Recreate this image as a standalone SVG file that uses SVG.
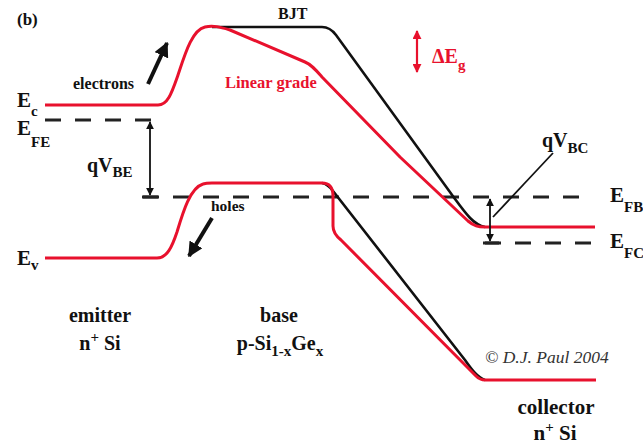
<svg xmlns="http://www.w3.org/2000/svg" width="643" height="444" viewBox="0 0 643 444">
<defs>
<style>
.t{font-family:'Liberation Serif','DejaVu Serif','Noto Serif',serif;font-weight:bold;fill:#111}
.i{font-family:'Liberation Serif','DejaVu Serif',serif;font-style:italic;fill:#333}
.red{stroke:#e8112d;stroke-width:3;fill:none;stroke-linejoin:round}
.blk{stroke:#111;stroke-width:2.6;fill:none;stroke-linejoin:round}
.dash{stroke:#222;stroke-width:3;stroke-dasharray:16 14;fill:none}
.tick{stroke:#222;stroke-width:3}
.thin{stroke:#111;stroke-width:1.8;fill:none}
</style>
<marker id="ah" viewBox="0 0 10 10" refX="9" refY="5" markerWidth="8" markerHeight="8" markerUnits="userSpaceOnUse" orient="auto-start-reverse"><path d="M0,0 L10,5 L0,10 z" fill="#111"/></marker>
<marker id="ahr" viewBox="0 0 10 10" refX="9" refY="5" markerWidth="9" markerHeight="9" markerUnits="userSpaceOnUse" orient="auto-start-reverse"><path d="M0,0 L10,5 L0,10 z" fill="#e8112d"/></marker>
<marker id="big" viewBox="0 0 10 10" refX="9" refY="5" markerWidth="15" markerHeight="15" markerUnits="userSpaceOnUse" orient="auto"><path d="M0,0 L10,5 L0,10 z" fill="#111"/></marker>
</defs>
<rect width="643" height="444" fill="#fff"/>

<g id="fermi-levels">
<path class="dash" d="M45,120 H152"/>
<path class="dash" d="M143,197 H592"/>
<path class="dash" d="M485,243 H592"/>
</g>

<g id="conduction-band">
<path class="blk" d="M212,27 H322 Q330,27 336,35 L455,199 C466,214 474,225 485,227"/>
<path class="red" d="M45,105 H158 C168,105 172,92 178,75 C185,54 192,30 205,27 C213,25 220,27 230,30 L305,62 C312,65 316,70 322,77 L400,157 L468,221 C474,226 478,227 485,227 H595"/>
</g>

<g id="valence-band">
<path class="blk" d="M322,183 C327,184 330,187 333,191 L465,360 C472,370 478,378 485,380"/>
<path class="red" d="M45,258 H157 C167,258 172,247 177,232 C183,212 190,188 203,184 C206,183 208,183 212,183 H322 C330,183 333,188 333,196 V226 C333,232 336,236 341,240 L476,376 C479,379 481,380 485,380 H596"/>
</g>

<g id="connectors">
<line class="thin" x1="150" y1="122" x2="150" y2="195" marker-start="url(#ah)" marker-end="url(#ah)"/>
<line class="tick" x1="142" y1="197" x2="158" y2="197"/>
<line class="thin" x1="490" y1="199" x2="490" y2="241" marker-start="url(#ah)" marker-end="url(#ah)"/>
<line class="tick" x1="483" y1="243" x2="499" y2="243"/>
<line class="thin" x1="493" y1="217" x2="553" y2="153"/>
<line stroke="#e8112d" stroke-width="2.2" x1="417" y1="31" x2="417" y2="72" marker-start="url(#ahr)" marker-end="url(#ahr)"/>
<line stroke="#111" stroke-width="4" x1="148" y1="84" x2="167" y2="43" marker-end="url(#big)"/>
<line stroke="#111" stroke-width="4" x1="212" y1="218" x2="189" y2="256" marker-end="url(#big)"/>
</g>

<g id="labels">
<text class="t" x="17" y="25" font-size="17">(b)</text>
<text class="t" x="73" y="89" font-size="16">electrons</text>
<text class="t" x="278" y="19" font-size="16">BJT</text>
<text class="t" x="225" y="88" font-size="16.5" style="fill:#e8112d">Linear grade</text>
<text class="t" x="432" y="63" font-size="20" style="fill:#e8112d">ΔE<tspan font-size="15" dy="7">g</tspan></text>
<text class="t" x="211" y="211" font-size="15.5">holes</text>

<text class="t" x="17" y="107" font-size="21">E<tspan font-size="15" dy="9">c</tspan></text>
<text class="t" x="17" y="135" font-size="21">E<tspan font-size="15" dy="12">FE</tspan></text>
<text class="t" x="17" y="265" font-size="21">E<tspan font-size="15" dy="5">v</tspan></text>
<text class="t" x="610" y="202" font-size="21">E<tspan font-size="15" dy="10">FB</tspan></text>
<text class="t" x="610" y="248" font-size="21">E<tspan font-size="15" dy="10">FC</tspan></text>
<text class="t" x="87" y="172" font-size="20">qV<tspan font-size="15" dy="5">BE</tspan></text>
<text class="t" x="542" y="147" font-size="20">qV<tspan font-size="15" dy="6">BC</tspan></text>

<text class="t" x="100" y="322" font-size="20" text-anchor="middle">emitter</text>
<text class="t" x="100" y="350" font-size="20" text-anchor="middle">n<tspan font-size="15" dy="-8">+</tspan><tspan dy="8"> Si</tspan></text>
<text class="t" x="279" y="322" font-size="20" text-anchor="middle">base</text>
<text class="t" x="280" y="350" font-size="20" text-anchor="middle">p-Si<tspan font-size="15" dy="6">1-x</tspan><tspan dy="-6">Ge</tspan><tspan font-size="15" dy="6">x</tspan></text>
<text class="i" x="485" y="363" font-size="17.5">© D.J. Paul 2004</text>
<text class="t" x="556" y="414" font-size="21" text-anchor="middle">collector</text>
<text class="t" x="555" y="440" font-size="21" text-anchor="middle">n<tspan font-size="15" dy="-8">+</tspan><tspan dy="8"> Si</tspan></text>
</g>
</svg>
